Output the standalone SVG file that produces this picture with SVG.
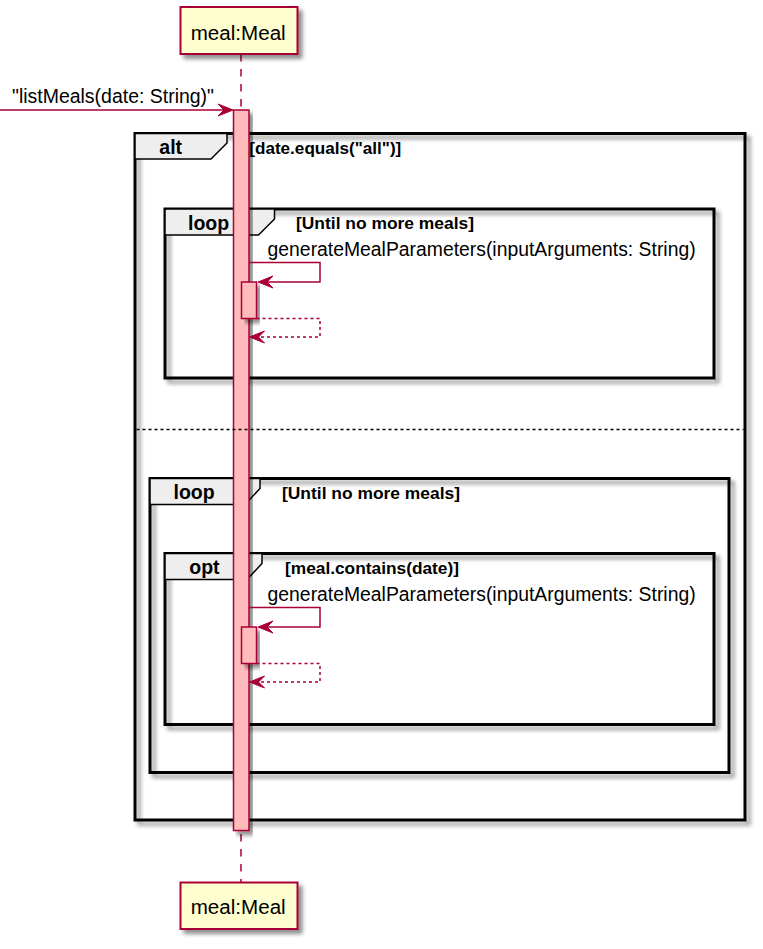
<svg xmlns="http://www.w3.org/2000/svg" width="763" height="949" viewBox="0 0 763 949">
<style>
.part{fill:#FEFECE;stroke:#A80036;stroke-width:2}
.ptxt{font-family:"Liberation Sans",Arial,sans-serif;font-size:19.5px;fill:#000}
.life{stroke:#A80036;stroke-width:1.5;stroke-dasharray:7.5,7.5;fill:none}
.act{fill:#FFBBBB;stroke:#A80036;stroke-width:1.5}
.frame{fill:none;stroke:#000;stroke-width:3}
.tab{fill:#EEEEEE;stroke:#000;stroke-width:1.5}
.ftxt{font-family:"Liberation Sans",Arial,sans-serif;font-size:19.5px;font-weight:bold;fill:#000}
.gtxt{font-family:"Liberation Sans",Arial,sans-serif;font-size:16.5px;font-weight:bold;fill:#000}
.mtxt{font-family:"Liberation Sans",Arial,sans-serif;font-size:19.5px;fill:#000}
.msg{stroke:#A80036;stroke-width:1.5;fill:none}
.ret{stroke:#A80036;stroke-width:1.5;fill:none;stroke-dasharray:3,3}
.head{fill:#A80036;stroke:#A80036;stroke-width:1}
.sep{stroke:#000;stroke-width:1.5;stroke-dasharray:3,3}
</style>
<defs>
<filter id="sh" x="-10%" y="-10%" width="130%" height="130%">
<feGaussianBlur in="SourceAlpha" stdDeviation="2"/>
<feOffset dx="4" dy="4" result="b"/>
<feComponentTransfer><feFuncA type="linear" slope="0.45"/></feComponentTransfer>
<feMerge><feMergeNode/><feMergeNode in="SourceGraphic"/></feMerge>
</filter>
</defs>

<g id="lifeline">
<line class="life" x1="241" y1="54" x2="241" y2="882"/>
</g>

<g id="frames">
<g id="alt">
<rect class="frame" x="135" y="133.5" width="610" height="686.5" filter="url(#sh)"/>
<polygon class="tab" points="135,133.5 227,133.5 227,143 211,159 135,159"/>
<text class="ftxt" x="159.3" y="154.3">alt</text>
<text class="gtxt" x="249.3" y="154" textLength="152" lengthAdjust="spacingAndGlyphs">[date.equals("all")]</text>
</g>
<g id="loop1">
<rect class="frame" x="165" y="209" width="549" height="169" filter="url(#sh)"/>
<polygon class="tab" points="165,209 274.5,209 274.5,219 258.5,235 165,235"/>
<text class="ftxt" x="188" y="230">loop</text>
<text class="gtxt" x="296" y="229" textLength="178" lengthAdjust="spacingAndGlyphs">[Until no more meals]</text>
</g>
<g id="loop2">
<rect class="frame" x="150" y="478.5" width="579" height="294" filter="url(#sh)"/>
<polygon class="tab" points="150,478.5 260,478.5 260,488.5 245,504.5 150,504.5"/>
<text class="ftxt" x="173.5" y="499.3">loop</text>
<text class="gtxt" x="282" y="499" textLength="178" lengthAdjust="spacingAndGlyphs">[Until no more meals]</text>
</g>
<g id="opt">
<rect class="frame" x="165" y="553.5" width="549" height="171" filter="url(#sh)"/>
<polygon class="tab" points="165,553.5 262,553.5 262,563.5 247,579.5 165,579.5"/>
<text class="ftxt" x="189.3" y="574.3">opt</text>
<text class="gtxt" x="285" y="573.5" textLength="174" lengthAdjust="spacingAndGlyphs">[meal.contains(date)]</text>
</g>
</g>

<g id="activations">
<rect class="act" x="233.5" y="110" width="15.5" height="720.5" filter="url(#sh)"/>
<rect class="act" x="241.5" y="282" width="15" height="36.5" filter="url(#sh)"/>
<rect class="act" x="241.5" y="627" width="15" height="36.5" filter="url(#sh)"/>
</g>

<g id="separator">
<line class="sep" x1="136.5" y1="429.5" x2="743.5" y2="429.5"/>
</g>

<g id="participant-top">
<rect class="part" x="180.5" y="7" width="117" height="47" filter="url(#sh)"/>
<text class="ptxt" x="190.7" y="39.5" textLength="95" lengthAdjust="spacingAndGlyphs">meal:Meal</text>
</g>
<g id="participant-bottom">
<rect class="part" x="180.5" y="882.5" width="117" height="46.5" filter="url(#sh)"/>
<text class="ptxt" x="190.7" y="914" textLength="95" lengthAdjust="spacingAndGlyphs">meal:Meal</text>
</g>

<g id="connectors">
<line class="msg" x1="0" y1="110" x2="230" y2="110"/>
<polygon class="head" points="233,110 218,104 224,110 218,116"/>
<text class="mtxt" x="12" y="103" textLength="202" lengthAdjust="spacingAndGlyphs">"listMeals(date: String)"</text>

<polyline class="msg" points="249,262.5 320,262.5 320,282 260,282"/>
<polygon class="head" points="258,282 273,276 267,282 273,288"/>
<text class="mtxt" x="267.6" y="255.5" textLength="428" lengthAdjust="spacingAndGlyphs">generateMealParameters(inputArguments: String)</text>
<polyline class="ret" points="256.5,318.5 320,318.5 320,337 252,337"/>
<polygon class="head" points="249.5,337 264.5,331 258.5,337 264.5,343"/>

<polyline class="msg" points="249,607.5 320,607.5 320,627 260,627"/>
<polygon class="head" points="258,627 273,621 267,627 273,633"/>
<text class="mtxt" x="267.6" y="600.5" textLength="428" lengthAdjust="spacingAndGlyphs">generateMealParameters(inputArguments: String)</text>
<polyline class="ret" points="256.5,663.5 320,663.5 320,682 252,682"/>
<polygon class="head" points="249.5,682 264.5,676 258.5,682 264.5,688"/>
</g>
</svg>
